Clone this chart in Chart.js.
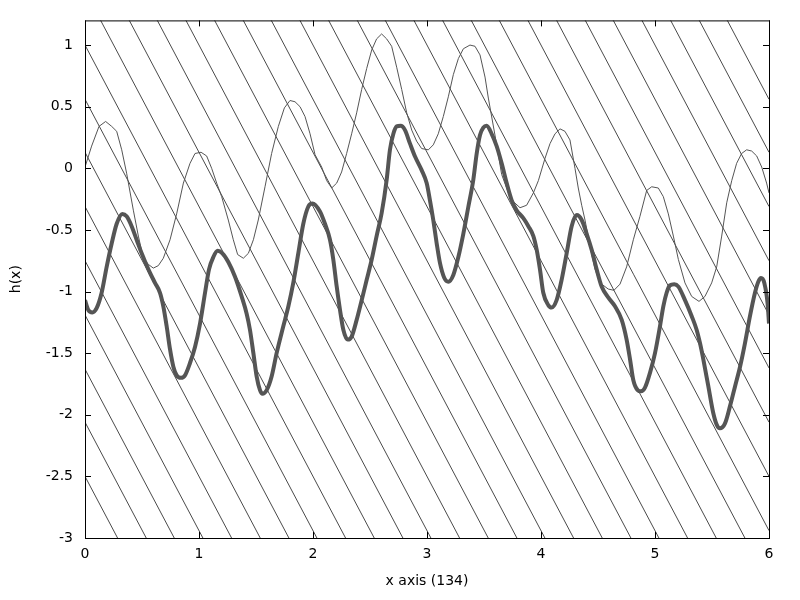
<!DOCTYPE html>
<html>
<head>
<meta charset="utf-8">
<script src="https://cdn.jsdelivr.net/npm/chart.js@4.4.1/dist/chart.umd.min.js"></script>
<style>
  html, body { margin: 0; padding: 0; background: #fff; }
  #wrap { width: 800px; height: 600px; }
</style>
</head>
<body>
<div id="wrap"><canvas id="plot" width="800" height="600"></canvas></div>
<script>
// tick values
const xTicks = [0, 1, 2, 3, 4, 5, 6];
const yTicks = [-3, -2.5, -2, -1.5, -1, -0.5, 0, 0.5, 1];

// thin curve
const thinX = [0, 0.058, 0.123, 0.181, 0.234, 0.278, 0.322, 0.365, 0.424, 0.468, 0.512, 0.556, 0.599, 0.643, 0.687, 0.746, 0.804, 0.863, 0.921, 0.965, 1.018, 1.067, 1.111, 1.155, 1.199, 1.257, 1.301, 1.339, 1.389, 1.433, 1.477, 1.520, 1.579, 1.637, 1.696, 1.749, 1.798, 1.842, 1.886, 1.930, 1.974, 2.018,
  2.076, 2.120, 2.164, 2.208, 2.251, 2.295, 2.339, 2.383, 2.427, 2.471, 2.515, 2.558, 2.602, 2.646, 2.690, 2.734, 2.778, 2.822, 2.866, 2.909, 2.953, 3.012, 3.055, 3.099, 3.143, 3.187, 3.231, 3.275, 3.319, 3.377, 3.421, 3.465, 3.509, 3.538, 3.596, 3.655, 3.714, 3.757, 3.816, 3.874, 3.933, 3.977, 4.035,
  4.079, 4.123, 4.167, 4.210, 4.254, 4.298, 4.327, 4.357, 4.386, 4.415, 4.445, 4.474, 4.518, 4.590, 4.640, 4.693, 4.751, 4.810, 4.868, 4.927, 4.971, 5.029, 5.073, 5.117, 5.161, 5.205, 5.263, 5.322, 5.386, 5.438, 5.497, 5.541, 5.585, 5.629, 5.673, 5.716, 5.760, 5.804, 5.848, 5.892, 5.936, 5.979, 6.0];
const thinY = [0.01, 0.18, 0.34, 0.38, 0.34, 0.30, 0.15, -0.04, -0.34, -0.55, -0.73, -0.78, -0.81, -0.79, -0.73, -0.58, -0.37, -0.12, 0.04, 0.12, 0.13, 0.10, 0.0, -0.12, -0.23, -0.42, -0.58, -0.70, -0.73, -0.69, -0.58, -0.42, -0.15, 0.12, 0.34, 0.49, 0.55, 0.54, 0.50, 0.42, 0.28, 0.11,
  0.01, -0.10, -0.16, -0.12, -0.03, 0.12, 0.28, 0.45, 0.64, 0.81, 0.96, 1.05, 1.09, 1.05, 0.99, 0.82, 0.64, 0.45, 0.31, 0.22, 0.16, 0.15, 0.19, 0.28, 0.42, 0.58, 0.76, 0.89, 0.97, 1.0, 0.99, 0.92, 0.74, 0.57, 0.27, -0.05, -0.20, -0.27, -0.32, -0.30, -0.20, -0.10, 0.08,
  0.20, 0.28, 0.32, 0.30, 0.23, 0.0, -0.16, -0.30, -0.42, -0.56, -0.70, -0.82, -0.93, -0.98, -0.99, -0.94, -0.80, -0.58, -0.39, -0.18, -0.15, -0.16, -0.23, -0.37, -0.55, -0.74, -0.93, -1.04, -1.08, -1.04, -0.93, -0.80, -0.55, -0.28, -0.10, 0.04, 0.12, 0.15, 0.14, 0.10, 0.01, -0.12, -0.20];

// thick curve
const thickX = [0, 0.029, 0.064, 0.102, 0.146, 0.190, 0.234, 0.278, 0.327, 0.365, 0.409, 0.453, 0.497, 0.556, 0.614, 0.658, 0.687, 0.716, 0.746, 0.775, 0.804, 0.842, 0.877, 0.921, 0.965, 1.009, 1.053, 1.088, 1.126, 1.164, 1.205, 1.257, 1.316, 1.374, 1.418, 1.447, 1.477, 1.506, 1.535, 1.556, 1.594, 1.637, 1.681, 1.740, 1.784, 1.827, 1.871, 1.915, 1.959, 1.995,
  2.061, 2.105, 2.149, 2.178, 2.208, 2.237, 2.266, 2.304, 2.339, 2.383, 2.427, 2.471, 2.515, 2.558, 2.602, 2.646, 2.675, 2.705, 2.734, 2.769, 2.807, 2.851, 2.895, 2.953, 2.997, 3.026, 3.055, 3.085, 3.114, 3.152, 3.187, 3.231, 3.275, 3.319, 3.363, 3.406, 3.436, 3.465, 3.494, 3.523, 3.567, 3.611, 3.655, 3.699, 3.743, 3.786, 3.845, 3.889, 3.933, 3.962, 3.991, 4.020,
  4.064, 4.093, 4.137, 4.181, 4.225, 4.269, 4.313, 4.357, 4.400, 4.444, 4.488, 4.532, 4.591, 4.649, 4.708, 4.751, 4.781, 4.810, 4.848, 4.877, 4.912, 4.956, 5.000, 5.044, 5.073, 5.102, 5.131, 5.169, 5.205, 5.263, 5.322, 5.365, 5.395, 5.424, 5.468, 5.512, 5.541, 5.570, 5.614, 5.658, 5.702, 5.746, 5.789, 5.833, 5.877, 5.906, 5.930, 5.959, 5.988, 6.0];
const thickY = [-1.07, -1.15, -1.17, -1.135, -1.01, -0.80, -0.61, -0.45, -0.37, -0.39, -0.47, -0.58, -0.69, -0.82, -0.93, -1.01, -1.12, -1.28, -1.47, -1.61, -1.68, -1.70, -1.68, -1.58, -1.45, -1.26, -1.01, -0.82, -0.72, -0.67, -0.69, -0.76, -0.88, -1.04, -1.18, -1.31, -1.50, -1.69, -1.80, -1.83, -1.80, -1.69, -1.50, -1.28, -1.12, -0.93, -0.69, -0.45, -0.31, -0.285,
  -0.35, -0.45, -0.58, -0.74, -0.96, -1.15, -1.31, -1.39, -1.365, -1.23, -1.07, -0.905, -0.74, -0.55, -0.365, -0.095, 0.15, 0.28, 0.34, 0.345, 0.31, 0.20, 0.095, -0.015, -0.12, -0.26, -0.42, -0.61, -0.77, -0.89, -0.92, -0.865, -0.72, -0.53, -0.31, -0.095, 0.12, 0.27, 0.33, 0.345, 0.28, 0.18, 0.04, -0.12, -0.26, -0.34, -0.405, -0.47, -0.55, -0.66, -0.82, -1.01,
  -1.11, -1.13, -1.07, -0.905, -0.69, -0.47, -0.38, -0.42, -0.53, -0.66, -0.82, -0.96, -1.05, -1.12, -1.23, -1.39, -1.55, -1.72, -1.80, -1.81, -1.78, -1.66, -1.50, -1.28, -1.12, -1.01, -0.95, -0.94, -0.96, -1.07, -1.20, -1.31, -1.42, -1.55, -1.77, -1.99, -2.08, -2.11, -2.07, -1.93, -1.77, -1.61, -1.42, -1.20, -1.01, -0.92, -0.89, -0.93, -1.10, -1.26];

// background line family: value at x = 0 and common slope
const hatchIntercepts = [-2.5, -2.06, -1.63, -1.19, -0.75, -0.31, 0.13, 0.56, 1.0, 1.44, 1.88, 2.31, 2.75, 3.19, 3.63, 4.06, 4.5, 4.94, 5.38, 5.81, 6.25, 6.69, 7.13, 7.56, 8.0, 8.44, 8.88, 9.31, 9.75, 10.19, 10.63, 11.06];
const hatchSlope = -1.75;

const inkColor = "#555555";
const fontFamily = "'DejaVu Sans', sans-serif";

const datasets = [
    {
        data: thickX.map((x, i) => ({ x, y: thickY[i] })),
        borderColor: inkColor,
        borderWidth: 4,
        cubicInterpolationMode: "monotone",
        order: 0
    },
    {
        data: thinX.map((x, i) => ({ x, y: thinY[i] })),
        borderColor: inkColor,
        borderWidth: 1,
        tension: 0,
        order: 1
    }
];
hatchIntercepts.forEach(c => {
    datasets.push({
        data: [{ x: 0, y: c }, { x: 6, y: c + hatchSlope * 6 }],
        borderColor: "#4a4a4a",
        borderWidth: 1,
        tension: 0,
        order: 2
    });
});

// frame and inward ticks on all four sides
const framePlugin = {
    id: "frame",
    afterDatasetsDraw(chart) {
        const { ctx, chartArea: a, scales } = chart;
        const len = 6;
        ctx.save();
        ctx.strokeStyle = "#000";
        ctx.lineWidth = 1;
        ctx.beginPath();
        xTicks.forEach(v => {
            const px = Math.round(scales.x.getPixelForValue(v)) + 0.5;
            ctx.moveTo(px, a.bottom); ctx.lineTo(px, a.bottom - len);
            ctx.moveTo(px, a.top); ctx.lineTo(px, a.top + len);
        });
        yTicks.forEach(v => {
            const py = Math.round(scales.y.getPixelForValue(v)) + 0.5;
            ctx.moveTo(a.left, py); ctx.lineTo(a.left + len, py);
            ctx.moveTo(a.right, py); ctx.lineTo(a.right - len, py);
        });
        ctx.stroke();
        ctx.strokeRect(a.left + 0.5, a.top + 0.5, a.right - a.left, a.bottom - a.top);
        ctx.restore();
    }
};

new Chart(document.getElementById("plot"), {
    type: "line",
    data: { datasets },
    options: {
        responsive: false,
        animation: false,
        layout: { padding: { top: 19, right: 31, left: 0, bottom: 0 } },
        elements: { point: { radius: 0 } },
        plugins: { legend: { display: false }, tooltip: { enabled: false } },
        scales: {
            x: {
                type: "linear",
                min: 0,
                max: 6,
                afterBuildTicks: s => { s.ticks = xTicks.map(v => ({ value: v })); },
                afterFit: s => { s.height = 62; },
                grid: { display: false, drawTicks: false },
                border: { display: false },
                ticks: { color: "#000", padding: 8, font: { family: fontFamily, size: 14 }, callback: v => String(v) },
                title: {
                    display: true,
                    text: "x axis (134)",
                    color: "#000",
                    font: { family: fontFamily, size: 14 },
                    padding: { top: 0, bottom: 10 }
                }
            },
            y: {
                type: "linear",
                min: -3,
                max: 1.2,
                afterBuildTicks: s => { s.ticks = yTicks.map(v => ({ value: v })); },
                afterFit: s => { s.width = 85; },
                grid: { display: false, drawTicks: false },
                border: { display: false },
                ticks: { color: "#000", padding: 12, font: { family: fontFamily, size: 14 }, callback: v => String(v) },
                title: {
                    display: true,
                    text: "h(x)",
                    color: "#000",
                    font: { family: fontFamily, size: 14 },
                    padding: { top: 8, bottom: 0 }
                }
            }
        }
    },
    plugins: [framePlugin]
});
</script>
</body>
</html>
